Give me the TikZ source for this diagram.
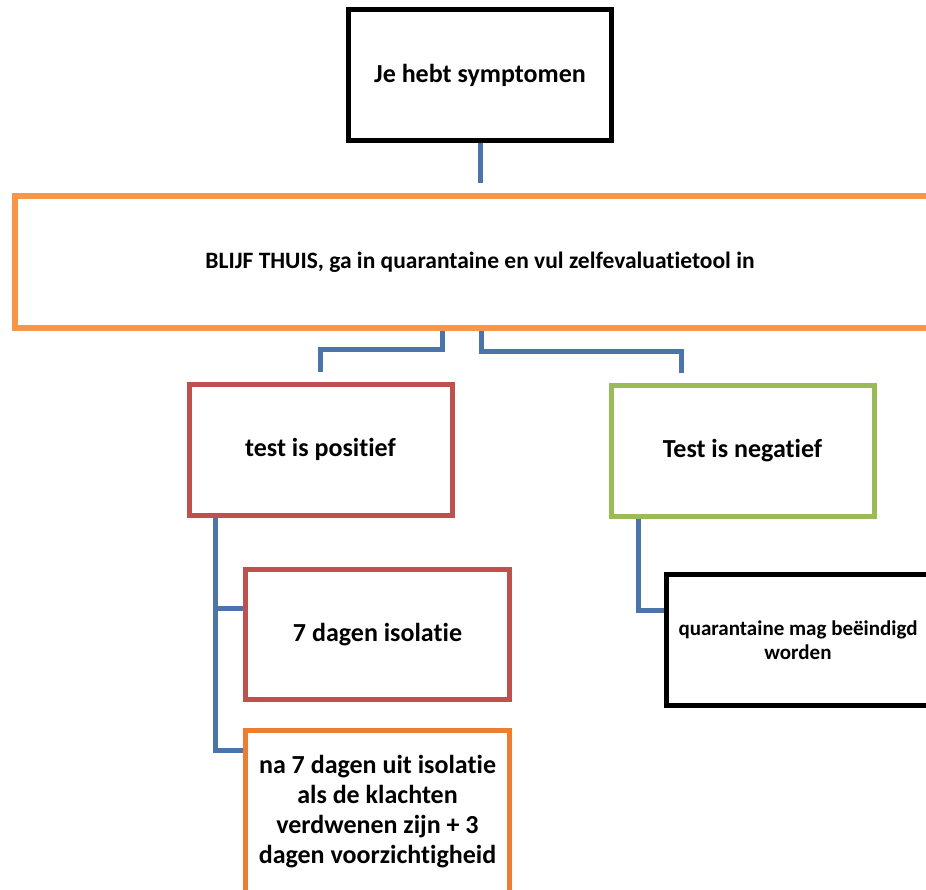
\documentclass[tikz,border=0pt]{standalone}
\usepackage{fontspec}
\setmainfont{Carlito}[Ligatures={NoCommon}]
\definecolor{cblue}{HTML}{4A74AA}
\definecolor{cred}{HTML}{C0504D}
\definecolor{cgreen}{HTML}{9BBB59}
\definecolor{corange}{HTML}{F79646}
\definecolor{cdorange}{HTML}{ED7D31}
\tikzset{
  box/.style={draw, rectangle, line width=5pt, fill=white, inner sep=0pt, align=center,
    font=\bfseries\fontsize{26}{30}\selectfont},
  smallbox/.style={box, font=\bfseries\fontsize{21}{24}\selectfont},
  conn/.style={draw=cblue, line width=5pt},
}
\begin{document}
\begin{tikzpicture}[x=1pt,y=-1pt]
\useasboundingbox (0,0) rectangle (926,889);
\fill[white] (0,0) rectangle (926,889);
\clip (0,0) rectangle (926,889);
\node[box, draw=black, minimum width=263pt, minimum height=131pt] (top) at (480,75) {Je hebt symptomen};
\node[box, font=\bfseries\fontsize{23.5}{27}\selectfont, draw=corange, line width=6pt, minimum width=930pt, minimum height=132pt] (big) at (480,262) {BLIJF THUIS, ga in quarantaine en vul zelfevaluatietool in};
\node[box, draw=cred, minimum width=263pt, minimum height=131pt] (pos) at (320.5,449.5) {test is positief};
\node[box, draw=cgreen, minimum width=263pt, minimum height=131pt] (neg) at (742.5,450.5) {Test is negatief};
\node[box, draw=cred, minimum width=264pt, minimum height=130pt] (iso) at (377.5,634.5) {7 dagen isolatie};
\node[box, draw=cdorange, minimum width=264pt, minimum height=163pt] (na) at (377.5,812) {na 7 dagen uit isolatie\\als de klachten\\verdwenen zijn + 3\\dagen voorzichtigheid};
\node[smallbox, draw=black, minimum width=263pt, minimum height=131pt] (blk) at (798,640) {quarantaine mag beëindigd\\worden};
\draw[conn, shorten >=10pt] (top.south) -- (big.north -| top.south);
\draw[conn, shorten >=10pt] (big.south -| 442,0) -- ++(0,18) -| (pos.north);
\coordinate (nr) at (neg.north -| 681,0);
\draw[conn, shorten >=10pt] (big.south -| 481,0) -- ++(0,20) -| (nr);
\draw[conn] (pos.south -| 215,0) |- (iso.west |- 0,608);
\draw[conn] (pos.south -| 215,0) |- (na.west |- 0,750);
\draw[conn] (neg.south -| 638,0) |- (blk.west |- 0,610);
\end{tikzpicture}
\end{document}
